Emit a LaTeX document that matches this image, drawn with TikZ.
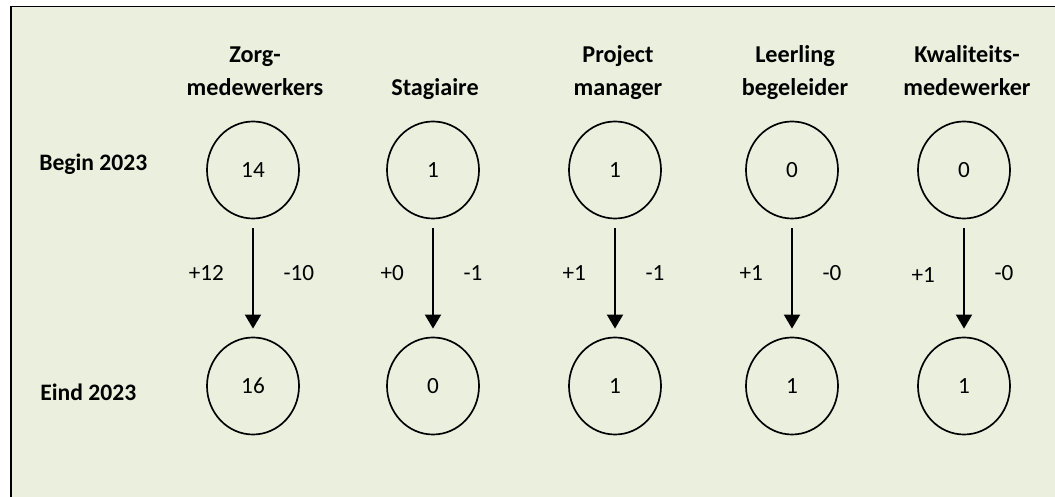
\documentclass[tikz,border=0pt]{standalone}
\usepackage{fontspec}
\setmainfont{Carlito}
\usetikzlibrary{shapes.geometric,arrows.meta}
\definecolor{panel}{RGB}{235,240,222}

\begin{document}
\begin{tikzpicture}[x=0.025cm,y=-0.025cm,
	count/.style={ellipse, draw, line width=1.2pt, minimum width=2.3cm, minimum height=2.425cm, inner sep=0pt, font=\fontsize{16.5}{20}\selectfont},
	head/.style={align=center, anchor=south, inner sep=0pt, font=\bfseries\fontsize{17.2}{23}\selectfont},
	rowlabel/.style={anchor=west, inner sep=0pt, font=\bfseries\fontsize{16.8}{20}\selectfont},
	flow/.style={-{Triangle[width=11.4pt,length=10pt]}, line width=1.4pt, shorten <=6.4pt, shorten >=5.7pt},
	plus/.style={left=20pt, inner sep=0pt, yshift=3.6pt, font=\fontsize{16.5}{20}\selectfont},
	minus/.style={right=21pt, inner sep=0pt, yshift=3.6pt, font=\fontsize{16.5}{20}\selectfont}]
	\useasboundingbox[fill=white] (0,0) rectangle (1055,497);
	\fill[panel] (11,6.5) rectangle (1055,497);
	\draw[line width=1.4pt] (11,497) |- (1055,6.5);

	% rows
	\node[rowlabel] (begin) at (39,164) {Begin 2023};
	\node[rowlabel] (eind) at (40,392) {Eind 2023};

	% headings
	\node[head] (h1) at (255,105) {Zorg-\\medewerkers\strut};
	\node[head] (h2) at (435,105) {Stagiaire\strut};
	\node[head] (h3) at (618,105) {Project\\manager\strut};
	\node[head] (h4) at (795,105) {Leerling\\begeleider\strut};
	\node[head] (h5) at (967,105) {Kwaliteits-\\medewerker\strut};

	% counts
	\node[count] (b1) at (253,170) {14};
	\node[count] (b2) at (433,170) {1};
	\node[count] (b3) at (615,170) {1};
	\node[count] (b4) at (792,170) {0};
	\node[count] (b5) at (964,170) {0};
	\node[count] (e1) at (253,386) {16};
	\node[count] (e2) at (433,386) {0};
	\node[count] (e3) at (615,386) {1};
	\node[count] (e4) at (792,386) {1};
	\node[count] (e5) at (964,386) {1};

	% in and out
	\draw[flow] (b1) -- node[plus] {+12} node[minus] {-10} (e1);
	\draw[flow] (b2) -- node[plus] {+0} node[minus] {-1} (e2);
	\draw[flow] (b3) -- node[plus] {+1} node[minus] {-1} (e3);
	\draw[flow] (b4) -- node[plus] {+1} node[minus] {-0} (e4);
	\draw[flow] (b5) -- node[plus, yshift=-1.4pt] {+1} node[minus] {-0} (e5);
\end{tikzpicture}
\end{document}
